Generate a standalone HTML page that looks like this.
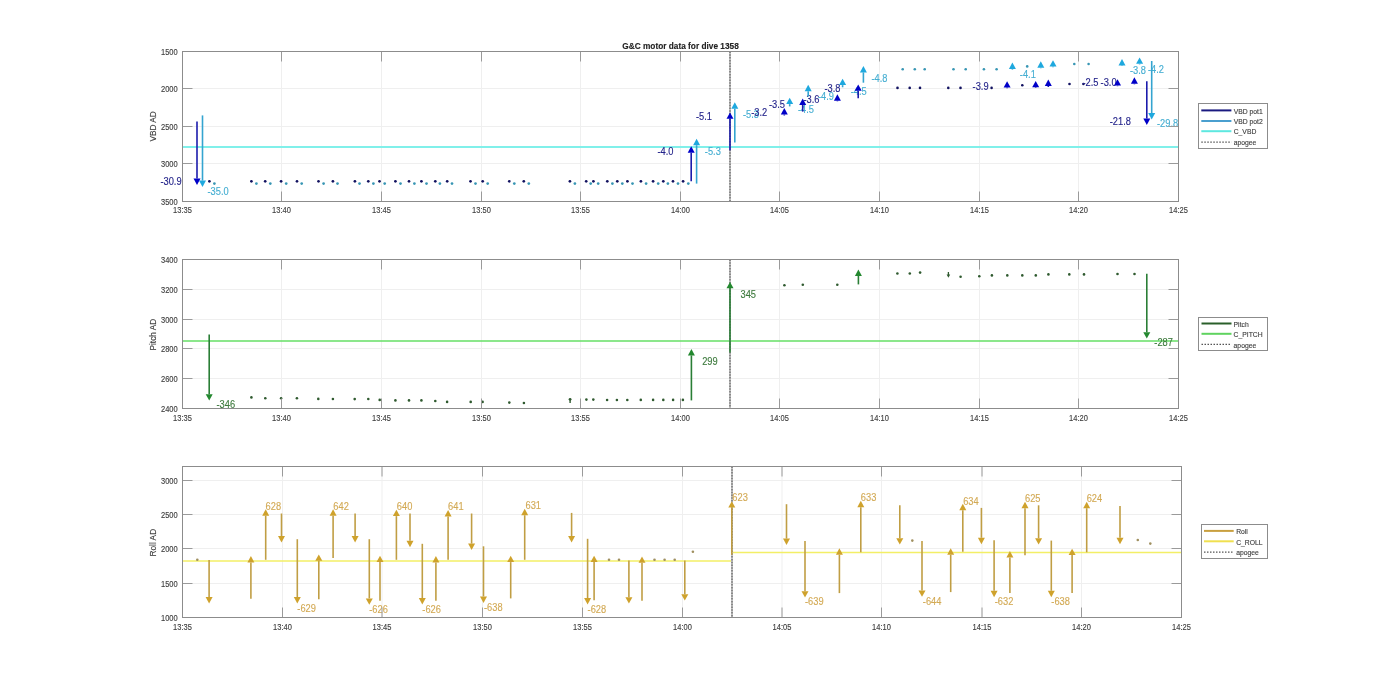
<!DOCTYPE html><html><head><meta charset="utf-8"><style>html,body{margin:0;padding:0;background:#fff;width:1400px;height:693px;overflow:hidden}svg{display:block;will-change:transform}</style></head><body>
<svg width="1400" height="693" viewBox="0 0 1400 693" font-family='"Liberation Sans", sans-serif'>
<rect width="1400" height="693" fill="#fff"/>
<line x1="281.5" y1="51.5" x2="281.5" y2="201.5" stroke="#efefef" stroke-width="1"/>
<line x1="381.5" y1="51.5" x2="381.5" y2="201.5" stroke="#efefef" stroke-width="1"/>
<line x1="481.5" y1="51.5" x2="481.5" y2="201.5" stroke="#efefef" stroke-width="1"/>
<line x1="580.5" y1="51.5" x2="580.5" y2="201.5" stroke="#efefef" stroke-width="1"/>
<line x1="680.5" y1="51.5" x2="680.5" y2="201.5" stroke="#efefef" stroke-width="1"/>
<line x1="779.5" y1="51.5" x2="779.5" y2="201.5" stroke="#efefef" stroke-width="1"/>
<line x1="879.5" y1="51.5" x2="879.5" y2="201.5" stroke="#efefef" stroke-width="1"/>
<line x1="979.5" y1="51.5" x2="979.5" y2="201.5" stroke="#efefef" stroke-width="1"/>
<line x1="1078.5" y1="51.5" x2="1078.5" y2="201.5" stroke="#efefef" stroke-width="1"/>
<line x1="182.5" y1="88.5" x2="1178.5" y2="88.5" stroke="#efefef" stroke-width="1"/>
<line x1="182.5" y1="126.5" x2="1178.5" y2="126.5" stroke="#efefef" stroke-width="1"/>
<line x1="182.5" y1="163.5" x2="1178.5" y2="163.5" stroke="#efefef" stroke-width="1"/>
<line x1="182.5" y1="147" x2="1178.5" y2="147" stroke="#80f0ea" stroke-width="2"/>
<line x1="730" y1="51.5" x2="730" y2="201.5" stroke="#c4c4c4" stroke-width="2"/>
<line x1="730" y1="51.5" x2="730" y2="201.5" stroke="#8a8a8a" stroke-width="2" stroke-dasharray="1.5,1.3"/>
<circle cx="209.4" cy="181.3" r="1.35" fill="#121260"/>
<circle cx="251.4" cy="181.3" r="1.35" fill="#121260"/>
<circle cx="265.2" cy="181.3" r="1.35" fill="#121260"/>
<circle cx="281.1" cy="181.3" r="1.35" fill="#121260"/>
<circle cx="297" cy="181.3" r="1.35" fill="#121260"/>
<circle cx="318.5" cy="181.3" r="1.35" fill="#121260"/>
<circle cx="332.9" cy="181.3" r="1.35" fill="#121260"/>
<circle cx="354.9" cy="181.3" r="1.35" fill="#121260"/>
<circle cx="368.3" cy="181.3" r="1.35" fill="#121260"/>
<circle cx="379.5" cy="181.3" r="1.35" fill="#121260"/>
<circle cx="395.4" cy="181.3" r="1.35" fill="#121260"/>
<circle cx="409" cy="181.3" r="1.35" fill="#121260"/>
<circle cx="421.4" cy="181.3" r="1.35" fill="#121260"/>
<circle cx="435.3" cy="181.3" r="1.35" fill="#121260"/>
<circle cx="447.2" cy="181.3" r="1.35" fill="#121260"/>
<circle cx="470.5" cy="181.3" r="1.35" fill="#121260"/>
<circle cx="482.7" cy="181.3" r="1.35" fill="#121260"/>
<circle cx="509.3" cy="181.3" r="1.35" fill="#121260"/>
<circle cx="523.8" cy="181.3" r="1.35" fill="#121260"/>
<circle cx="569.9" cy="181.3" r="1.35" fill="#121260"/>
<circle cx="586.2" cy="181.3" r="1.35" fill="#121260"/>
<circle cx="593.4" cy="181.3" r="1.35" fill="#121260"/>
<circle cx="607.3" cy="181.3" r="1.35" fill="#121260"/>
<circle cx="617.3" cy="181.3" r="1.35" fill="#121260"/>
<circle cx="627.4" cy="181.3" r="1.35" fill="#121260"/>
<circle cx="640.9" cy="181.3" r="1.35" fill="#121260"/>
<circle cx="653.1" cy="181.3" r="1.35" fill="#121260"/>
<circle cx="663.3" cy="181.3" r="1.35" fill="#121260"/>
<circle cx="673" cy="181.3" r="1.35" fill="#121260"/>
<circle cx="683.1" cy="181.3" r="1.35" fill="#121260"/>
<circle cx="214.4" cy="183.6" r="1.35" fill="#3896b4"/>
<circle cx="256.4" cy="183.6" r="1.35" fill="#3896b4"/>
<circle cx="270.3" cy="183.6" r="1.35" fill="#3896b4"/>
<circle cx="286.2" cy="183.6" r="1.35" fill="#3896b4"/>
<circle cx="301.7" cy="183.6" r="1.35" fill="#3896b4"/>
<circle cx="323.6" cy="183.6" r="1.35" fill="#3896b4"/>
<circle cx="337.5" cy="183.6" r="1.35" fill="#3896b4"/>
<circle cx="359.5" cy="183.6" r="1.35" fill="#3896b4"/>
<circle cx="373.4" cy="183.6" r="1.35" fill="#3896b4"/>
<circle cx="384.7" cy="183.6" r="1.35" fill="#3896b4"/>
<circle cx="400.5" cy="183.6" r="1.35" fill="#3896b4"/>
<circle cx="414.4" cy="183.6" r="1.35" fill="#3896b4"/>
<circle cx="426.5" cy="183.6" r="1.35" fill="#3896b4"/>
<circle cx="439.9" cy="183.6" r="1.35" fill="#3896b4"/>
<circle cx="452" cy="183.6" r="1.35" fill="#3896b4"/>
<circle cx="475.5" cy="183.6" r="1.35" fill="#3896b4"/>
<circle cx="487.7" cy="183.6" r="1.35" fill="#3896b4"/>
<circle cx="514.3" cy="183.6" r="1.35" fill="#3896b4"/>
<circle cx="528.8" cy="183.6" r="1.35" fill="#3896b4"/>
<circle cx="574.9" cy="183.6" r="1.35" fill="#3896b4"/>
<circle cx="590.7" cy="183.6" r="1.35" fill="#3896b4"/>
<circle cx="598.2" cy="183.6" r="1.35" fill="#3896b4"/>
<circle cx="612.4" cy="183.6" r="1.35" fill="#3896b4"/>
<circle cx="622.3" cy="183.6" r="1.35" fill="#3896b4"/>
<circle cx="632.5" cy="183.6" r="1.35" fill="#3896b4"/>
<circle cx="646.1" cy="183.6" r="1.35" fill="#3896b4"/>
<circle cx="658.2" cy="183.6" r="1.35" fill="#3896b4"/>
<circle cx="667.9" cy="183.6" r="1.35" fill="#3896b4"/>
<circle cx="678" cy="183.6" r="1.35" fill="#3896b4"/>
<circle cx="688.3" cy="183.6" r="1.35" fill="#3896b4"/>
<circle cx="897.5" cy="87.9" r="1.3" fill="#121260"/>
<circle cx="909.7" cy="87.9" r="1.3" fill="#121260"/>
<circle cx="920" cy="87.9" r="1.3" fill="#121260"/>
<circle cx="948.3" cy="87.9" r="1.3" fill="#121260"/>
<circle cx="960.5" cy="87.9" r="1.3" fill="#121260"/>
<circle cx="991.6" cy="87.9" r="1.3" fill="#121260"/>
<circle cx="1022.3" cy="85.2" r="1.3" fill="#121260"/>
<circle cx="1069.5" cy="84" r="1.3" fill="#121260"/>
<circle cx="1083.4" cy="84" r="1.3" fill="#121260"/>
<circle cx="902.7" cy="69.2" r="1.3" fill="#3896b4"/>
<circle cx="914.8" cy="69.2" r="1.3" fill="#3896b4"/>
<circle cx="924.7" cy="69.2" r="1.3" fill="#3896b4"/>
<circle cx="953.5" cy="69.2" r="1.3" fill="#3896b4"/>
<circle cx="965.7" cy="69.2" r="1.3" fill="#3896b4"/>
<circle cx="983.9" cy="69.2" r="1.3" fill="#3896b4"/>
<circle cx="996.6" cy="69.2" r="1.3" fill="#3896b4"/>
<circle cx="1027.2" cy="66.4" r="1.3" fill="#3896b4"/>
<circle cx="1074.3" cy="64" r="1.3" fill="#3896b4"/>
<circle cx="1088.6" cy="64" r="1.3" fill="#3896b4"/>
<text transform="translate(207.50 194.95) scale(1 1.1)" font-size="9.3" fill="#45aed2" stroke="#45aed2" stroke-width="0.12">-35.0</text>
<text transform="translate(704.80 154.65) scale(1 1.1)" font-size="9.3" fill="#45aed2" stroke="#45aed2" stroke-width="0.12">-5.3</text>
<text transform="translate(742.90 117.85) scale(1 1.1)" font-size="9.3" fill="#45aed2" stroke="#45aed2" stroke-width="0.12">-5.3</text>
<text transform="translate(798.00 113.15) scale(1 1.1)" font-size="9.3" fill="#45aed2" stroke="#45aed2" stroke-width="0.12">-4.5</text>
<text transform="translate(818.00 100.45) scale(1 1.1)" font-size="9.3" fill="#45aed2" stroke="#45aed2" stroke-width="0.12">-4.9</text>
<text transform="translate(850.70 95.05) scale(1 1.1)" font-size="9.3" fill="#45aed2" stroke="#45aed2" stroke-width="0.12">-4.5</text>
<text transform="translate(871.50 82.05) scale(1 1.1)" font-size="9.3" fill="#45aed2" stroke="#45aed2" stroke-width="0.12">-4.8</text>
<text transform="translate(1019.80 78.05) scale(1 1.1)" font-size="9.3" fill="#45aed2" stroke="#45aed2" stroke-width="0.12">-4.1</text>
<text transform="translate(1129.90 74.15) scale(1 1.1)" font-size="9.3" fill="#45aed2" stroke="#45aed2" stroke-width="0.12">-3.8</text>
<text transform="translate(1148.00 73.05) scale(1 1.1)" font-size="9.3" fill="#45aed2" stroke="#45aed2" stroke-width="0.12">-4.2</text>
<text transform="translate(1157.00 127.35) scale(1 1.1)" font-size="9.3" fill="#45aed2" stroke="#45aed2" stroke-width="0.12">-29.8</text>
<text transform="translate(160.40 185.45) scale(1 1.1)" font-size="9.3" fill="#23238a" stroke="#23238a" stroke-width="0.12">-30.9</text>
<text transform="translate(657.50 154.85) scale(1 1.1)" font-size="9.3" fill="#23238a" stroke="#23238a" stroke-width="0.12">-4.0</text>
<text transform="translate(695.90 119.85) scale(1 1.1)" font-size="9.3" fill="#23238a" stroke="#23238a" stroke-width="0.12">-5.1</text>
<text transform="translate(751.20 115.75) scale(1 1.1)" font-size="9.3" fill="#23238a" stroke="#23238a" stroke-width="0.12">-3.2</text>
<text transform="translate(769.00 107.65) scale(1 1.1)" font-size="9.3" fill="#23238a" stroke="#23238a" stroke-width="0.12">-3.5</text>
<text transform="translate(803.50 102.85) scale(1 1.1)" font-size="9.3" fill="#23238a" stroke="#23238a" stroke-width="0.12">-3.6</text>
<text transform="translate(824.50 92.35) scale(1 1.1)" font-size="9.3" fill="#23238a" stroke="#23238a" stroke-width="0.12">-3.8</text>
<text transform="translate(972.60 89.55) scale(1 1.1)" font-size="9.3" fill="#23238a" stroke="#23238a" stroke-width="0.12">-3.9</text>
<text transform="translate(1082.50 86.45) scale(1 1.1)" font-size="9.3" fill="#23238a" stroke="#23238a" stroke-width="0.12">-2.5</text>
<text transform="translate(1100.60 86.45) scale(1 1.1)" font-size="9.3" fill="#23238a" stroke="#23238a" stroke-width="0.12">-3.0</text>
<text transform="translate(1109.70 125.45) scale(1 1.1)" font-size="9.3" fill="#23238a" stroke="#23238a" stroke-width="0.12">-21.8</text>
<line x1="202.5" y1="115.4" x2="202.5" y2="180.6" stroke="#34a4d0" stroke-width="1.6"/><polygon points="199.0,180.6 206.0,180.6 202.5,187" fill="#1ea8de"/>
<line x1="696.6" y1="183.6" x2="696.6" y2="145.20000000000002" stroke="#34a4d0" stroke-width="1.6"/><polygon points="693.1,145.2 700.1,145.2 696.6,138.8" fill="#1ea8de"/>
<line x1="734.8" y1="142.4" x2="734.8" y2="108.7" stroke="#34a4d0" stroke-width="1.6"/><polygon points="731.3,108.7 738.3,108.7 734.8,102.3" fill="#1ea8de"/>
<line x1="789.7" y1="106.4" x2="789.7" y2="104.10000000000001" stroke="#34a4d0" stroke-width="1.6"/><polygon points="786.2,104.1 793.2,104.1 789.7,97.7" fill="#1ea8de"/>
<line x1="808.2" y1="96.6" x2="808.2" y2="91.2" stroke="#34a4d0" stroke-width="1.6"/><polygon points="804.7,91.2 811.7,91.2 808.2,84.8" fill="#1ea8de"/>
<line x1="842.6" y1="87.3" x2="842.6" y2="85.10000000000001" stroke="#34a4d0" stroke-width="1.6"/><polygon points="839.1,85.1 846.1,85.1 842.6,78.7" fill="#1ea8de"/>
<line x1="863.4" y1="82.7" x2="863.4" y2="72.4" stroke="#34a4d0" stroke-width="1.6"/><polygon points="859.9,72.4 866.9,72.4 863.4,66" fill="#1ea8de"/>
<line x1="1012.4" y1="69.6" x2="1012.4" y2="69.0" stroke="#34a4d0" stroke-width="1.6"/><polygon points="1008.9,69.0 1015.9,69.0 1012.4,62.6" fill="#1ea8de"/>
<line x1="1040.8" y1="68.3" x2="1040.8" y2="67.7" stroke="#34a4d0" stroke-width="1.6"/><polygon points="1037.3,67.7 1044.3,67.7 1040.8,61.3" fill="#1ea8de"/>
<line x1="1053" y1="67.2" x2="1053" y2="66.60000000000001" stroke="#34a4d0" stroke-width="1.6"/><polygon points="1049.5,66.6 1056.5,66.6 1053,60.2" fill="#1ea8de"/>
<line x1="1122" y1="66" x2="1122" y2="65.4" stroke="#34a4d0" stroke-width="1.6"/><polygon points="1118.5,65.4 1125.5,65.4 1122,59" fill="#1ea8de"/>
<line x1="1139.6" y1="64.4" x2="1139.6" y2="63.8" stroke="#34a4d0" stroke-width="1.6"/><polygon points="1136.1,63.8 1143.1,63.8 1139.6,57.4" fill="#1ea8de"/>
<line x1="1151.7" y1="61" x2="1151.7" y2="113.1" stroke="#34a4d0" stroke-width="1.6"/><polygon points="1148.2,113.1 1155.2,113.1 1151.7,119.5" fill="#1ea8de"/>
<line x1="197" y1="121.4" x2="197" y2="178.6" stroke="#1c1cac" stroke-width="1.6"/><polygon points="193.5,178.6 200.5,178.6 197,185" fill="#0000c8"/>
<line x1="691.2" y1="181.3" x2="691.2" y2="152.70000000000002" stroke="#1c1cac" stroke-width="1.6"/><polygon points="687.7,152.7 694.7,152.7 691.2,146.3" fill="#0000c8"/>
<line x1="730" y1="150.3" x2="730" y2="118.80000000000001" stroke="#1c1cac" stroke-width="1.6"/><polygon points="726.5,118.8 733.5,118.8 730,112.4" fill="#0000c8"/>
<line x1="784.3" y1="115.5" x2="784.3" y2="114.5" stroke="#1c1cac" stroke-width="1.6"/><polygon points="780.8,114.5 787.8,114.5 784.3,108.1" fill="#0000c8"/>
<line x1="802.7" y1="111.6" x2="802.7" y2="105.0" stroke="#1c1cac" stroke-width="1.6"/><polygon points="799.2,105.0 806.2,105.0 802.7,98.6" fill="#0000c8"/>
<line x1="837.4" y1="101.3" x2="837.4" y2="100.7" stroke="#1c1cac" stroke-width="1.6"/><polygon points="833.9,100.7 840.9,100.7 837.4,94.3" fill="#0000c8"/>
<line x1="858.2" y1="98.3" x2="858.2" y2="90.80000000000001" stroke="#1c1cac" stroke-width="1.6"/><polygon points="854.7,90.8 861.7,90.8 858.2,84.4" fill="#0000c8"/>
<line x1="1007.1" y1="88.2" x2="1007.1" y2="87.60000000000001" stroke="#1c1cac" stroke-width="1.6"/><polygon points="1003.6,87.6 1010.6,87.6 1007.1,81.2" fill="#0000c8"/>
<line x1="1035.7" y1="87.9" x2="1035.7" y2="87.30000000000001" stroke="#1c1cac" stroke-width="1.6"/><polygon points="1032.2,87.3 1039.2,87.3 1035.7,80.9" fill="#0000c8"/>
<line x1="1048.3" y1="87" x2="1048.3" y2="86.0" stroke="#1c1cac" stroke-width="1.6"/><polygon points="1044.8,86.0 1051.8,86.0 1048.3,79.6" fill="#0000c8"/>
<line x1="1117.5" y1="86.2" x2="1117.5" y2="85.60000000000001" stroke="#1c1cac" stroke-width="1.6"/><polygon points="1114.0,85.6 1121.0,85.6 1117.5,79.2" fill="#0000c8"/>
<line x1="1134.4" y1="84.3" x2="1134.4" y2="83.7" stroke="#1c1cac" stroke-width="1.6"/><polygon points="1130.9,83.7 1137.9,83.7 1134.4,77.3" fill="#0000c8"/>
<line x1="1146.8" y1="81.2" x2="1146.8" y2="118.6" stroke="#1c1cac" stroke-width="1.6"/><polygon points="1143.3,118.6 1150.3,118.6 1146.8,125" fill="#0000c8"/>
<line x1="281.5" y1="201.5" x2="281.5" y2="191.5" stroke="#9a9a9a" stroke-width="1"/>
<line x1="281.5" y1="51.5" x2="281.5" y2="61.5" stroke="#9a9a9a" stroke-width="1"/>
<line x1="381.5" y1="201.5" x2="381.5" y2="191.5" stroke="#9a9a9a" stroke-width="1"/>
<line x1="381.5" y1="51.5" x2="381.5" y2="61.5" stroke="#9a9a9a" stroke-width="1"/>
<line x1="481.5" y1="201.5" x2="481.5" y2="191.5" stroke="#9a9a9a" stroke-width="1"/>
<line x1="481.5" y1="51.5" x2="481.5" y2="61.5" stroke="#9a9a9a" stroke-width="1"/>
<line x1="580.5" y1="201.5" x2="580.5" y2="191.5" stroke="#9a9a9a" stroke-width="1"/>
<line x1="580.5" y1="51.5" x2="580.5" y2="61.5" stroke="#9a9a9a" stroke-width="1"/>
<line x1="680.5" y1="201.5" x2="680.5" y2="191.5" stroke="#9a9a9a" stroke-width="1"/>
<line x1="680.5" y1="51.5" x2="680.5" y2="61.5" stroke="#9a9a9a" stroke-width="1"/>
<line x1="779.5" y1="201.5" x2="779.5" y2="191.5" stroke="#9a9a9a" stroke-width="1"/>
<line x1="779.5" y1="51.5" x2="779.5" y2="61.5" stroke="#9a9a9a" stroke-width="1"/>
<line x1="879.5" y1="201.5" x2="879.5" y2="191.5" stroke="#9a9a9a" stroke-width="1"/>
<line x1="879.5" y1="51.5" x2="879.5" y2="61.5" stroke="#9a9a9a" stroke-width="1"/>
<line x1="979.5" y1="201.5" x2="979.5" y2="191.5" stroke="#9a9a9a" stroke-width="1"/>
<line x1="979.5" y1="51.5" x2="979.5" y2="61.5" stroke="#9a9a9a" stroke-width="1"/>
<line x1="1078.5" y1="201.5" x2="1078.5" y2="191.5" stroke="#9a9a9a" stroke-width="1"/>
<line x1="1078.5" y1="51.5" x2="1078.5" y2="61.5" stroke="#9a9a9a" stroke-width="1"/>
<line x1="182.5" y1="88.5" x2="192.5" y2="88.5" stroke="#9a9a9a" stroke-width="1"/>
<line x1="1178.5" y1="88.5" x2="1168.5" y2="88.5" stroke="#9a9a9a" stroke-width="1"/>
<line x1="182.5" y1="126.5" x2="192.5" y2="126.5" stroke="#9a9a9a" stroke-width="1"/>
<line x1="1178.5" y1="126.5" x2="1168.5" y2="126.5" stroke="#9a9a9a" stroke-width="1"/>
<line x1="182.5" y1="163.5" x2="192.5" y2="163.5" stroke="#9a9a9a" stroke-width="1"/>
<line x1="1178.5" y1="163.5" x2="1168.5" y2="163.5" stroke="#9a9a9a" stroke-width="1"/>
<rect x="182.5" y="51.5" width="996.0" height="150.0" fill="none" stroke="#8c8c8c" stroke-width="1"/>
<text transform="translate(177.70 55.20) scale(1 1.1)" text-anchor="end" font-size="7.5" fill="#404040" stroke="#404040" stroke-width="0.12">1500</text>
<text transform="translate(177.70 92.20) scale(1 1.1)" text-anchor="end" font-size="7.5" fill="#404040" stroke="#404040" stroke-width="0.12">2000</text>
<text transform="translate(177.70 130.20) scale(1 1.1)" text-anchor="end" font-size="7.5" fill="#404040" stroke="#404040" stroke-width="0.12">2500</text>
<text transform="translate(177.70 167.20) scale(1 1.1)" text-anchor="end" font-size="7.5" fill="#404040" stroke="#404040" stroke-width="0.12">3000</text>
<text transform="translate(177.70 205.20) scale(1 1.1)" text-anchor="end" font-size="7.5" fill="#404040" stroke="#404040" stroke-width="0.12">3500</text>
<text transform="translate(182.50 213.30) scale(1 1.1)" text-anchor="middle" font-size="7.5" fill="#404040" stroke="#404040" stroke-width="0.12">13:35</text>
<text transform="translate(281.50 213.30) scale(1 1.1)" text-anchor="middle" font-size="7.5" fill="#404040" stroke="#404040" stroke-width="0.12">13:40</text>
<text transform="translate(381.50 213.30) scale(1 1.1)" text-anchor="middle" font-size="7.5" fill="#404040" stroke="#404040" stroke-width="0.12">13:45</text>
<text transform="translate(481.50 213.30) scale(1 1.1)" text-anchor="middle" font-size="7.5" fill="#404040" stroke="#404040" stroke-width="0.12">13:50</text>
<text transform="translate(580.50 213.30) scale(1 1.1)" text-anchor="middle" font-size="7.5" fill="#404040" stroke="#404040" stroke-width="0.12">13:55</text>
<text transform="translate(680.50 213.30) scale(1 1.1)" text-anchor="middle" font-size="7.5" fill="#404040" stroke="#404040" stroke-width="0.12">14:00</text>
<text transform="translate(779.50 213.30) scale(1 1.1)" text-anchor="middle" font-size="7.5" fill="#404040" stroke="#404040" stroke-width="0.12">14:05</text>
<text transform="translate(879.50 213.30) scale(1 1.1)" text-anchor="middle" font-size="7.5" fill="#404040" stroke="#404040" stroke-width="0.12">14:10</text>
<text transform="translate(979.50 213.30) scale(1 1.1)" text-anchor="middle" font-size="7.5" fill="#404040" stroke="#404040" stroke-width="0.12">14:15</text>
<text transform="translate(1078.50 213.30) scale(1 1.1)" text-anchor="middle" font-size="7.5" fill="#404040" stroke="#404040" stroke-width="0.12">14:20</text>
<text transform="translate(1178.50 213.30) scale(1 1.1)" text-anchor="middle" font-size="7.5" fill="#404040" stroke="#404040" stroke-width="0.12">14:25</text>
<text transform="translate(156.20 126.40) rotate(-90) scale(1 1.1)" text-anchor="middle" font-size="8.3" fill="#404040" stroke="#404040" stroke-width="0.12">VBD AD</text>
<text transform="translate(680.50 48.90) scale(1 1.1)" text-anchor="middle" font-weight="bold" font-size="8.3" fill="#222" stroke="#222" stroke-width="0.12">G&amp;C motor data for dive 1358</text>
<rect x="1198.5" y="103.5" width="69" height="45" fill="#fff" stroke="#8c8c8c" stroke-width="1"/>
<line x1="1201.3" y1="110.4" x2="1231.4" y2="110.4" stroke="#1a1a80" stroke-width="2"/>
<text transform="translate(1233.70 113.60) scale(1 1.1)" font-size="6.8" fill="#404040" stroke="#404040" stroke-width="0.12">VBD pot1</text>
<line x1="1201.3" y1="121" x2="1231.4" y2="121" stroke="#4a9fcf" stroke-width="2"/>
<text transform="translate(1233.70 124.20) scale(1 1.1)" font-size="6.8" fill="#404040" stroke="#404040" stroke-width="0.12">VBD pot2</text>
<line x1="1201.3" y1="131.2" x2="1231.4" y2="131.2" stroke="#5ee8e0" stroke-width="2"/>
<text transform="translate(1233.70 134.40) scale(1 1.1)" font-size="6.8" fill="#404040" stroke="#404040" stroke-width="0.12">C_VBD</text>
<line x1="1201.3" y1="142.2" x2="1231.4" y2="142.2" stroke="#555" stroke-width="1.2" stroke-dasharray="1.5,1.5"/>
<text transform="translate(1233.70 145.40) scale(1 1.1)" font-size="6.8" fill="#404040" stroke="#404040" stroke-width="0.12">apogee</text>
<line x1="281.5" y1="259.5" x2="281.5" y2="408.5" stroke="#efefef" stroke-width="1"/>
<line x1="381.5" y1="259.5" x2="381.5" y2="408.5" stroke="#efefef" stroke-width="1"/>
<line x1="481.5" y1="259.5" x2="481.5" y2="408.5" stroke="#efefef" stroke-width="1"/>
<line x1="580.5" y1="259.5" x2="580.5" y2="408.5" stroke="#efefef" stroke-width="1"/>
<line x1="680.5" y1="259.5" x2="680.5" y2="408.5" stroke="#efefef" stroke-width="1"/>
<line x1="779.5" y1="259.5" x2="779.5" y2="408.5" stroke="#efefef" stroke-width="1"/>
<line x1="879.5" y1="259.5" x2="879.5" y2="408.5" stroke="#efefef" stroke-width="1"/>
<line x1="979.5" y1="259.5" x2="979.5" y2="408.5" stroke="#efefef" stroke-width="1"/>
<line x1="1078.5" y1="259.5" x2="1078.5" y2="408.5" stroke="#efefef" stroke-width="1"/>
<line x1="182.5" y1="378.5" x2="1178.5" y2="378.5" stroke="#efefef" stroke-width="1"/>
<line x1="182.5" y1="348.5" x2="1178.5" y2="348.5" stroke="#efefef" stroke-width="1"/>
<line x1="182.5" y1="319.5" x2="1178.5" y2="319.5" stroke="#efefef" stroke-width="1"/>
<line x1="182.5" y1="289.5" x2="1178.5" y2="289.5" stroke="#efefef" stroke-width="1"/>
<line x1="182.5" y1="341" x2="1178.5" y2="341" stroke="#66df66" stroke-width="1.6"/>
<line x1="730" y1="259.5" x2="730" y2="408.5" stroke="#c4c4c4" stroke-width="2"/>
<line x1="730" y1="259.5" x2="730" y2="408.5" stroke="#8a8a8a" stroke-width="2" stroke-dasharray="1.5,1.3"/>
<circle cx="251.4" cy="397.4" r="1.3" fill="#2f5a2f"/>
<circle cx="265.3" cy="398.3" r="1.3" fill="#2f5a2f"/>
<circle cx="281.1" cy="398.3" r="1.3" fill="#2f5a2f"/>
<circle cx="296.9" cy="398.3" r="1.3" fill="#2f5a2f"/>
<circle cx="318.3" cy="398.9" r="1.3" fill="#2f5a2f"/>
<circle cx="332.9" cy="399" r="1.3" fill="#2f5a2f"/>
<circle cx="354.7" cy="399.1" r="1.3" fill="#2f5a2f"/>
<circle cx="368.3" cy="399" r="1.3" fill="#2f5a2f"/>
<circle cx="379.7" cy="399.9" r="1.3" fill="#2f5a2f"/>
<circle cx="395.4" cy="400.4" r="1.3" fill="#2f5a2f"/>
<circle cx="409" cy="400.4" r="1.3" fill="#2f5a2f"/>
<circle cx="421.4" cy="400.4" r="1.3" fill="#2f5a2f"/>
<circle cx="435.3" cy="401" r="1.3" fill="#2f5a2f"/>
<circle cx="447.1" cy="401.9" r="1.3" fill="#2f5a2f"/>
<circle cx="470.7" cy="401.9" r="1.3" fill="#2f5a2f"/>
<circle cx="482.6" cy="401.9" r="1.3" fill="#2f5a2f"/>
<circle cx="509.3" cy="402.6" r="1.3" fill="#2f5a2f"/>
<circle cx="523.9" cy="403" r="1.3" fill="#2f5a2f"/>
<circle cx="586.4" cy="399.6" r="1.3" fill="#2f5a2f"/>
<circle cx="593.3" cy="399.6" r="1.3" fill="#2f5a2f"/>
<circle cx="607.1" cy="400" r="1.3" fill="#2f5a2f"/>
<circle cx="616.9" cy="400" r="1.3" fill="#2f5a2f"/>
<circle cx="627.3" cy="400" r="1.3" fill="#2f5a2f"/>
<circle cx="640.8" cy="399.9" r="1.3" fill="#2f5a2f"/>
<circle cx="653.1" cy="399.9" r="1.3" fill="#2f5a2f"/>
<circle cx="663.3" cy="399.9" r="1.3" fill="#2f5a2f"/>
<circle cx="673.1" cy="399.9" r="1.3" fill="#2f5a2f"/>
<circle cx="682.9" cy="399.9" r="1.3" fill="#2f5a2f"/>
<circle cx="784.4" cy="285.3" r="1.3" fill="#2f5a2f"/>
<circle cx="802.8" cy="284.7" r="1.3" fill="#2f5a2f"/>
<circle cx="837.3" cy="284.7" r="1.3" fill="#2f5a2f"/>
<circle cx="897.4" cy="273.5" r="1.3" fill="#2f5a2f"/>
<circle cx="909.8" cy="273.5" r="1.3" fill="#2f5a2f"/>
<circle cx="920.1" cy="272.6" r="1.3" fill="#2f5a2f"/>
<circle cx="960.6" cy="276.7" r="1.3" fill="#2f5a2f"/>
<circle cx="979.3" cy="276.3" r="1.3" fill="#2f5a2f"/>
<circle cx="991.9" cy="275.4" r="1.3" fill="#2f5a2f"/>
<circle cx="1007.3" cy="275.4" r="1.3" fill="#2f5a2f"/>
<circle cx="1022.3" cy="275.4" r="1.3" fill="#2f5a2f"/>
<circle cx="1035.8" cy="275.4" r="1.3" fill="#2f5a2f"/>
<circle cx="1048.4" cy="274.4" r="1.3" fill="#2f5a2f"/>
<circle cx="1069.3" cy="274.4" r="1.3" fill="#2f5a2f"/>
<circle cx="1084" cy="274.4" r="1.3" fill="#2f5a2f"/>
<circle cx="1117.5" cy="274" r="1.3" fill="#2f5a2f"/>
<circle cx="1134.5" cy="274" r="1.3" fill="#2f5a2f"/>
<line x1="209.2" y1="334.4" x2="209.2" y2="394.20000000000005" stroke="#2a7e36" stroke-width="1.6"/><polygon points="205.7,394.2 212.7,394.2 209.2,400.6" fill="#23882f"/>
<line x1="691.4" y1="400.4" x2="691.4" y2="355.4" stroke="#2a7e36" stroke-width="1.6"/><polygon points="687.9,355.4 694.9,355.4 691.4,349" fill="#23882f"/>
<line x1="730" y1="352.5" x2="730" y2="288.29999999999995" stroke="#2a7e36" stroke-width="1.6"/><polygon points="726.5,288.3 733.5,288.3 730,281.9" fill="#23882f"/>
<line x1="858.4" y1="284.4" x2="858.4" y2="276.0" stroke="#2a7e36" stroke-width="1.6"/><polygon points="854.9,276.0 861.9,276.0 858.4,269.6" fill="#23882f"/>
<line x1="1146.8" y1="273.7" x2="1146.8" y2="332.20000000000005" stroke="#2a7e36" stroke-width="1.6"/><polygon points="1143.3,332.2 1150.3,332.2 1146.8,338.6" fill="#23882f"/>
<line x1="948.4" y1="272" x2="948.4" y2="275" stroke="#2f5a2f" stroke-width="1.3"/><polygon points="946.6,274.6 950.2,274.6 948.4,277.8" fill="#2f5a2f"/>
<line x1="570.1" y1="399" x2="570.1" y2="403" stroke="#2f5a2f" stroke-width="1.4"/><circle cx="570.1" cy="399.3" r="1.4" fill="#2f5a2f"/>
<text transform="translate(216.50 408.35) scale(1 1.1)" font-size="9.3" fill="#3d7a3d" stroke="#3d7a3d" stroke-width="0.12">-346</text>
<text transform="translate(702.20 364.95) scale(1 1.1)" font-size="9.3" fill="#3d7a3d" stroke="#3d7a3d" stroke-width="0.12">299</text>
<text transform="translate(740.50 297.65) scale(1 1.1)" font-size="9.3" fill="#3d7a3d" stroke="#3d7a3d" stroke-width="0.12">345</text>
<text transform="translate(1154.30 345.95) scale(1 1.1)" font-size="9.3" fill="#3d7a3d" stroke="#3d7a3d" stroke-width="0.12">-287</text>
<line x1="281.5" y1="408.5" x2="281.5" y2="398.5" stroke="#9a9a9a" stroke-width="1"/>
<line x1="281.5" y1="259.5" x2="281.5" y2="269.5" stroke="#9a9a9a" stroke-width="1"/>
<line x1="381.5" y1="408.5" x2="381.5" y2="398.5" stroke="#9a9a9a" stroke-width="1"/>
<line x1="381.5" y1="259.5" x2="381.5" y2="269.5" stroke="#9a9a9a" stroke-width="1"/>
<line x1="481.5" y1="408.5" x2="481.5" y2="398.5" stroke="#9a9a9a" stroke-width="1"/>
<line x1="481.5" y1="259.5" x2="481.5" y2="269.5" stroke="#9a9a9a" stroke-width="1"/>
<line x1="580.5" y1="408.5" x2="580.5" y2="398.5" stroke="#9a9a9a" stroke-width="1"/>
<line x1="580.5" y1="259.5" x2="580.5" y2="269.5" stroke="#9a9a9a" stroke-width="1"/>
<line x1="680.5" y1="408.5" x2="680.5" y2="398.5" stroke="#9a9a9a" stroke-width="1"/>
<line x1="680.5" y1="259.5" x2="680.5" y2="269.5" stroke="#9a9a9a" stroke-width="1"/>
<line x1="779.5" y1="408.5" x2="779.5" y2="398.5" stroke="#9a9a9a" stroke-width="1"/>
<line x1="779.5" y1="259.5" x2="779.5" y2="269.5" stroke="#9a9a9a" stroke-width="1"/>
<line x1="879.5" y1="408.5" x2="879.5" y2="398.5" stroke="#9a9a9a" stroke-width="1"/>
<line x1="879.5" y1="259.5" x2="879.5" y2="269.5" stroke="#9a9a9a" stroke-width="1"/>
<line x1="979.5" y1="408.5" x2="979.5" y2="398.5" stroke="#9a9a9a" stroke-width="1"/>
<line x1="979.5" y1="259.5" x2="979.5" y2="269.5" stroke="#9a9a9a" stroke-width="1"/>
<line x1="1078.5" y1="408.5" x2="1078.5" y2="398.5" stroke="#9a9a9a" stroke-width="1"/>
<line x1="1078.5" y1="259.5" x2="1078.5" y2="269.5" stroke="#9a9a9a" stroke-width="1"/>
<line x1="182.5" y1="378.5" x2="192.5" y2="378.5" stroke="#9a9a9a" stroke-width="1"/>
<line x1="1178.5" y1="378.5" x2="1168.5" y2="378.5" stroke="#9a9a9a" stroke-width="1"/>
<line x1="182.5" y1="348.5" x2="192.5" y2="348.5" stroke="#9a9a9a" stroke-width="1"/>
<line x1="1178.5" y1="348.5" x2="1168.5" y2="348.5" stroke="#9a9a9a" stroke-width="1"/>
<line x1="182.5" y1="319.5" x2="192.5" y2="319.5" stroke="#9a9a9a" stroke-width="1"/>
<line x1="1178.5" y1="319.5" x2="1168.5" y2="319.5" stroke="#9a9a9a" stroke-width="1"/>
<line x1="182.5" y1="289.5" x2="192.5" y2="289.5" stroke="#9a9a9a" stroke-width="1"/>
<line x1="1178.5" y1="289.5" x2="1168.5" y2="289.5" stroke="#9a9a9a" stroke-width="1"/>
<rect x="182.5" y="259.5" width="996.0" height="149.0" fill="none" stroke="#8c8c8c" stroke-width="1"/>
<text transform="translate(177.70 412.20) scale(1 1.1)" text-anchor="end" font-size="7.5" fill="#404040" stroke="#404040" stroke-width="0.12">2400</text>
<text transform="translate(177.70 382.20) scale(1 1.1)" text-anchor="end" font-size="7.5" fill="#404040" stroke="#404040" stroke-width="0.12">2600</text>
<text transform="translate(177.70 352.20) scale(1 1.1)" text-anchor="end" font-size="7.5" fill="#404040" stroke="#404040" stroke-width="0.12">2800</text>
<text transform="translate(177.70 323.20) scale(1 1.1)" text-anchor="end" font-size="7.5" fill="#404040" stroke="#404040" stroke-width="0.12">3000</text>
<text transform="translate(177.70 293.20) scale(1 1.1)" text-anchor="end" font-size="7.5" fill="#404040" stroke="#404040" stroke-width="0.12">3200</text>
<text transform="translate(177.70 263.20) scale(1 1.1)" text-anchor="end" font-size="7.5" fill="#404040" stroke="#404040" stroke-width="0.12">3400</text>
<text transform="translate(182.50 420.50) scale(1 1.1)" text-anchor="middle" font-size="7.5" fill="#404040" stroke="#404040" stroke-width="0.12">13:35</text>
<text transform="translate(281.50 420.50) scale(1 1.1)" text-anchor="middle" font-size="7.5" fill="#404040" stroke="#404040" stroke-width="0.12">13:40</text>
<text transform="translate(381.50 420.50) scale(1 1.1)" text-anchor="middle" font-size="7.5" fill="#404040" stroke="#404040" stroke-width="0.12">13:45</text>
<text transform="translate(481.50 420.50) scale(1 1.1)" text-anchor="middle" font-size="7.5" fill="#404040" stroke="#404040" stroke-width="0.12">13:50</text>
<text transform="translate(580.50 420.50) scale(1 1.1)" text-anchor="middle" font-size="7.5" fill="#404040" stroke="#404040" stroke-width="0.12">13:55</text>
<text transform="translate(680.50 420.50) scale(1 1.1)" text-anchor="middle" font-size="7.5" fill="#404040" stroke="#404040" stroke-width="0.12">14:00</text>
<text transform="translate(779.50 420.50) scale(1 1.1)" text-anchor="middle" font-size="7.5" fill="#404040" stroke="#404040" stroke-width="0.12">14:05</text>
<text transform="translate(879.50 420.50) scale(1 1.1)" text-anchor="middle" font-size="7.5" fill="#404040" stroke="#404040" stroke-width="0.12">14:10</text>
<text transform="translate(979.50 420.50) scale(1 1.1)" text-anchor="middle" font-size="7.5" fill="#404040" stroke="#404040" stroke-width="0.12">14:15</text>
<text transform="translate(1078.50 420.50) scale(1 1.1)" text-anchor="middle" font-size="7.5" fill="#404040" stroke="#404040" stroke-width="0.12">14:20</text>
<text transform="translate(1178.50 420.50) scale(1 1.1)" text-anchor="middle" font-size="7.5" fill="#404040" stroke="#404040" stroke-width="0.12">14:25</text>
<text transform="translate(156.20 334.60) rotate(-90) scale(1 1.1)" text-anchor="middle" font-size="8.3" fill="#404040" stroke="#404040" stroke-width="0.12">Pitch AD</text>
<rect x="1198.5" y="317.5" width="69" height="33" fill="#fff" stroke="#8c8c8c" stroke-width="1"/>
<line x1="1201.5" y1="323.5" x2="1231.5" y2="323.5" stroke="#2a5f2a" stroke-width="2"/>
<text transform="translate(1233.60 326.70) scale(1 1.1)" font-size="6.8" fill="#404040" stroke="#404040" stroke-width="0.12">Pitch</text>
<line x1="1201.5" y1="333.8" x2="1231.5" y2="333.8" stroke="#5fd35f" stroke-width="2"/>
<text transform="translate(1233.60 337.00) scale(1 1.1)" font-size="6.8" fill="#404040" stroke="#404040" stroke-width="0.12">C_PITCH</text>
<line x1="1201.5" y1="344.3" x2="1231.5" y2="344.3" stroke="#555" stroke-width="1.2" stroke-dasharray="1.5,1.5"/>
<text transform="translate(1233.60 347.50) scale(1 1.1)" font-size="6.8" fill="#404040" stroke="#404040" stroke-width="0.12">apogee</text>
<line x1="282.5" y1="466.5" x2="282.5" y2="617.5" stroke="#efefef" stroke-width="1"/>
<line x1="382" y1="466.5" x2="382" y2="617.5" stroke="#efefef" stroke-width="1"/>
<line x1="482.5" y1="466.5" x2="482.5" y2="617.5" stroke="#efefef" stroke-width="1"/>
<line x1="582.5" y1="466.5" x2="582.5" y2="617.5" stroke="#efefef" stroke-width="1"/>
<line x1="682.5" y1="466.5" x2="682.5" y2="617.5" stroke="#efefef" stroke-width="1"/>
<line x1="782" y1="466.5" x2="782" y2="617.5" stroke="#efefef" stroke-width="1"/>
<line x1="881.5" y1="466.5" x2="881.5" y2="617.5" stroke="#efefef" stroke-width="1"/>
<line x1="982" y1="466.5" x2="982" y2="617.5" stroke="#efefef" stroke-width="1"/>
<line x1="1081.5" y1="466.5" x2="1081.5" y2="617.5" stroke="#efefef" stroke-width="1"/>
<line x1="182.5" y1="583.5" x2="1181.5" y2="583.5" stroke="#efefef" stroke-width="1"/>
<line x1="182.5" y1="548.5" x2="1181.5" y2="548.5" stroke="#efefef" stroke-width="1"/>
<line x1="182.5" y1="514.5" x2="1181.5" y2="514.5" stroke="#efefef" stroke-width="1"/>
<line x1="182.5" y1="480.5" x2="1181.5" y2="480.5" stroke="#efefef" stroke-width="1"/>
<line x1="182.5" y1="561" x2="732" y2="561" stroke="#f3ef66" stroke-width="1.6"/>
<line x1="732" y1="552.5" x2="1181.5" y2="552.5" stroke="#f3ef66" stroke-width="1.6"/>
<line x1="732" y1="466.5" x2="732" y2="617.5" stroke="#c4c4c4" stroke-width="2"/>
<line x1="732" y1="466.5" x2="732" y2="617.5" stroke="#8a8a8a" stroke-width="2" stroke-dasharray="1.5,1.3"/>
<circle cx="197.3" cy="559.8" r="1.3" fill="#a09060"/>
<circle cx="609" cy="559.8" r="1.3" fill="#a09060"/>
<circle cx="619" cy="559.8" r="1.3" fill="#a09060"/>
<circle cx="654.5" cy="559.8" r="1.3" fill="#a09060"/>
<circle cx="664.6" cy="559.8" r="1.3" fill="#a09060"/>
<circle cx="674.7" cy="559.8" r="1.3" fill="#a09060"/>
<circle cx="692.9" cy="551.7" r="1.3" fill="#a09060"/>
<circle cx="912.3" cy="540.6" r="1.3" fill="#a09060"/>
<circle cx="1137.8" cy="540" r="1.3" fill="#a09060"/>
<circle cx="1150.3" cy="543.6" r="1.3" fill="#a09060"/>
<text transform="translate(265.60 510.05) scale(1 1.1)" font-size="9.3" fill="#d3aa55" stroke="#d3aa55" stroke-width="0.12">628</text>
<text transform="translate(297.30 611.85) scale(1 1.1)" font-size="9.3" fill="#d3aa55" stroke="#d3aa55" stroke-width="0.12">-629</text>
<text transform="translate(333.30 509.85) scale(1 1.1)" font-size="9.3" fill="#d3aa55" stroke="#d3aa55" stroke-width="0.12">642</text>
<text transform="translate(369.20 612.85) scale(1 1.1)" font-size="9.3" fill="#d3aa55" stroke="#d3aa55" stroke-width="0.12">-626</text>
<text transform="translate(396.80 509.85) scale(1 1.1)" font-size="9.3" fill="#d3aa55" stroke="#d3aa55" stroke-width="0.12">640</text>
<text transform="translate(422.30 612.65) scale(1 1.1)" font-size="9.3" fill="#d3aa55" stroke="#d3aa55" stroke-width="0.12">-626</text>
<text transform="translate(448.10 509.85) scale(1 1.1)" font-size="9.3" fill="#d3aa55" stroke="#d3aa55" stroke-width="0.12">641</text>
<text transform="translate(484.00 611.15) scale(1 1.1)" font-size="9.3" fill="#d3aa55" stroke="#d3aa55" stroke-width="0.12">-638</text>
<text transform="translate(525.50 509.35) scale(1 1.1)" font-size="9.3" fill="#d3aa55" stroke="#d3aa55" stroke-width="0.12">631</text>
<text transform="translate(587.60 612.65) scale(1 1.1)" font-size="9.3" fill="#d3aa55" stroke="#d3aa55" stroke-width="0.12">-628</text>
<text transform="translate(732.30 501.25) scale(1 1.1)" font-size="9.3" fill="#d3aa55" stroke="#d3aa55" stroke-width="0.12">623</text>
<text transform="translate(805.00 604.65) scale(1 1.1)" font-size="9.3" fill="#d3aa55" stroke="#d3aa55" stroke-width="0.12">-639</text>
<text transform="translate(860.80 501.35) scale(1 1.1)" font-size="9.3" fill="#d3aa55" stroke="#d3aa55" stroke-width="0.12">633</text>
<text transform="translate(922.80 604.55) scale(1 1.1)" font-size="9.3" fill="#d3aa55" stroke="#d3aa55" stroke-width="0.12">-644</text>
<text transform="translate(963.20 504.75) scale(1 1.1)" font-size="9.3" fill="#d3aa55" stroke="#d3aa55" stroke-width="0.12">634</text>
<text transform="translate(994.70 604.55) scale(1 1.1)" font-size="9.3" fill="#d3aa55" stroke="#d3aa55" stroke-width="0.12">-632</text>
<text transform="translate(1025.00 502.35) scale(1 1.1)" font-size="9.3" fill="#d3aa55" stroke="#d3aa55" stroke-width="0.12">625</text>
<text transform="translate(1051.30 604.55) scale(1 1.1)" font-size="9.3" fill="#d3aa55" stroke="#d3aa55" stroke-width="0.12">-638</text>
<text transform="translate(1086.70 502.35) scale(1 1.1)" font-size="9.3" fill="#d3aa55" stroke="#d3aa55" stroke-width="0.12">624</text>
<line x1="209.1" y1="560" x2="209.1" y2="597.1" stroke="#c09e44" stroke-width="1.6"/><polygon points="205.6,597.1 212.6,597.1 209.1,603.5" fill="#cfa22c"/>
<line x1="250.9" y1="598.8" x2="250.9" y2="562.4" stroke="#c09e44" stroke-width="1.6"/><polygon points="247.4,562.4 254.4,562.4 250.9,556" fill="#cfa22c"/>
<line x1="265.7" y1="559.8" x2="265.7" y2="515.7" stroke="#c09e44" stroke-width="1.6"/><polygon points="262.2,515.7 269.2,515.7 265.7,509.3" fill="#cfa22c"/>
<line x1="281.5" y1="513.5" x2="281.5" y2="536.1" stroke="#c09e44" stroke-width="1.6"/><polygon points="278.0,536.1 285.0,536.1 281.5,542.5" fill="#cfa22c"/>
<line x1="297.3" y1="539.2" x2="297.3" y2="597.1" stroke="#c09e44" stroke-width="1.6"/><polygon points="293.8,597.1 300.8,597.1 297.3,603.5" fill="#cfa22c"/>
<line x1="318.8" y1="599.2" x2="318.8" y2="560.8" stroke="#c09e44" stroke-width="1.6"/><polygon points="315.3,560.8 322.3,560.8 318.8,554.4" fill="#cfa22c"/>
<line x1="333.1" y1="557.9" x2="333.1" y2="515.7" stroke="#c09e44" stroke-width="1.6"/><polygon points="329.6,515.7 336.6,515.7 333.1,509.3" fill="#cfa22c"/>
<line x1="355.1" y1="513.5" x2="355.1" y2="536.1" stroke="#c09e44" stroke-width="1.6"/><polygon points="351.6,536.1 358.6,536.1 355.1,542.5" fill="#cfa22c"/>
<line x1="369.3" y1="539.2" x2="369.3" y2="598.4" stroke="#c09e44" stroke-width="1.6"/><polygon points="365.8,598.4 372.8,598.4 369.3,604.8" fill="#cfa22c"/>
<line x1="380" y1="600.7" x2="380" y2="562.1" stroke="#c09e44" stroke-width="1.6"/><polygon points="376.5,562.1 383.5,562.1 380,555.7" fill="#cfa22c"/>
<line x1="396.4" y1="559.8" x2="396.4" y2="516.1" stroke="#c09e44" stroke-width="1.6"/><polygon points="392.9,516.1 399.9,516.1 396.4,509.7" fill="#cfa22c"/>
<line x1="410" y1="513.5" x2="410" y2="540.8000000000001" stroke="#c09e44" stroke-width="1.6"/><polygon points="406.5,540.8 413.5,540.8 410,547.2" fill="#cfa22c"/>
<line x1="422.3" y1="543.8" x2="422.3" y2="598.0" stroke="#c09e44" stroke-width="1.6"/><polygon points="418.8,598.0 425.8,598.0 422.3,604.4" fill="#cfa22c"/>
<line x1="435.9" y1="600.7" x2="435.9" y2="562.4" stroke="#c09e44" stroke-width="1.6"/><polygon points="432.4,562.4 439.4,562.4 435.9,556" fill="#cfa22c"/>
<line x1="448.1" y1="559.8" x2="448.1" y2="516.4" stroke="#c09e44" stroke-width="1.6"/><polygon points="444.6,516.4 451.6,516.4 448.1,510" fill="#cfa22c"/>
<line x1="471.6" y1="513.5" x2="471.6" y2="543.6" stroke="#c09e44" stroke-width="1.6"/><polygon points="468.1,543.6 475.1,543.6 471.6,550" fill="#cfa22c"/>
<line x1="483.5" y1="546.3" x2="483.5" y2="596.5" stroke="#c09e44" stroke-width="1.6"/><polygon points="480.0,596.5 487.0,596.5 483.5,602.9" fill="#cfa22c"/>
<line x1="510.7" y1="598.4" x2="510.7" y2="562.1" stroke="#c09e44" stroke-width="1.6"/><polygon points="507.2,562.1 514.2,562.1 510.7,555.7" fill="#cfa22c"/>
<line x1="524.7" y1="559.8" x2="524.7" y2="515.2" stroke="#c09e44" stroke-width="1.6"/><polygon points="521.2,515.2 528.2,515.2 524.7,508.8" fill="#cfa22c"/>
<line x1="571.6" y1="512.9" x2="571.6" y2="536.1" stroke="#c09e44" stroke-width="1.6"/><polygon points="568.1,536.1 575.1,536.1 571.6,542.5" fill="#cfa22c"/>
<line x1="587.6" y1="538.8" x2="587.6" y2="598.0" stroke="#c09e44" stroke-width="1.6"/><polygon points="584.1,598.0 591.1,598.0 587.6,604.4" fill="#cfa22c"/>
<line x1="594.1" y1="600.3" x2="594.1" y2="562.1" stroke="#c09e44" stroke-width="1.6"/><polygon points="590.6,562.1 597.6,562.1 594.1,555.7" fill="#cfa22c"/>
<line x1="628.9" y1="560.4" x2="628.9" y2="597.2" stroke="#c09e44" stroke-width="1.6"/><polygon points="625.4,597.2 632.4,597.2 628.9,603.6" fill="#cfa22c"/>
<line x1="642" y1="600.8" x2="642" y2="562.8" stroke="#c09e44" stroke-width="1.6"/><polygon points="638.5,562.8 645.5,562.8 642,556.4" fill="#cfa22c"/>
<line x1="684.8" y1="560.4" x2="684.8" y2="594.2" stroke="#c09e44" stroke-width="1.6"/><polygon points="681.3,594.2 688.3,594.2 684.8,600.6" fill="#cfa22c"/>
<line x1="731.8" y1="554.7" x2="731.8" y2="507.59999999999997" stroke="#c09e44" stroke-width="1.6"/><polygon points="728.3,507.6 735.3,507.6 731.8,501.2" fill="#cfa22c"/>
<line x1="786.5" y1="504.2" x2="786.5" y2="538.6" stroke="#c09e44" stroke-width="1.6"/><polygon points="783.0,538.6 790.0,538.6 786.5,545" fill="#cfa22c"/>
<line x1="805" y1="541" x2="805" y2="591.2" stroke="#c09e44" stroke-width="1.6"/><polygon points="801.5,591.2 808.5,591.2 805,597.6" fill="#cfa22c"/>
<line x1="839.4" y1="593.1" x2="839.4" y2="554.6999999999999" stroke="#c09e44" stroke-width="1.6"/><polygon points="835.9,554.7 842.9,554.7 839.4,548.3" fill="#cfa22c"/>
<line x1="860.8" y1="552.3" x2="860.8" y2="507.2" stroke="#c09e44" stroke-width="1.6"/><polygon points="857.3,507.2 864.3,507.2 860.8,500.8" fill="#cfa22c"/>
<line x1="899.8" y1="505.3" x2="899.8" y2="538.2" stroke="#c09e44" stroke-width="1.6"/><polygon points="896.3,538.2 903.3,538.2 899.8,544.6" fill="#cfa22c"/>
<line x1="922" y1="541" x2="922" y2="590.4" stroke="#c09e44" stroke-width="1.6"/><polygon points="918.5,590.4 925.5,590.4 922,596.8" fill="#cfa22c"/>
<line x1="950.7" y1="592.1" x2="950.7" y2="554.6999999999999" stroke="#c09e44" stroke-width="1.6"/><polygon points="947.2,554.7 954.2,554.7 950.7,548.3" fill="#cfa22c"/>
<line x1="962.8" y1="551.7" x2="962.8" y2="510.2" stroke="#c09e44" stroke-width="1.6"/><polygon points="959.3,510.2 966.3,510.2 962.8,503.8" fill="#cfa22c"/>
<line x1="981.4" y1="507.9" x2="981.4" y2="537.8000000000001" stroke="#c09e44" stroke-width="1.6"/><polygon points="977.9,537.8 984.9,537.8 981.4,544.2" fill="#cfa22c"/>
<line x1="994.1" y1="540.2" x2="994.1" y2="590.8000000000001" stroke="#c09e44" stroke-width="1.6"/><polygon points="990.6,590.8 997.6,590.8 994.1,597.2" fill="#cfa22c"/>
<line x1="1009.9" y1="593.1" x2="1009.9" y2="557.5" stroke="#c09e44" stroke-width="1.6"/><polygon points="1006.4,557.5 1013.4,557.5 1009.9,551.1" fill="#cfa22c"/>
<line x1="1025" y1="555.2" x2="1025" y2="508.2" stroke="#c09e44" stroke-width="1.6"/><polygon points="1021.5,508.2 1028.5,508.2 1025,501.8" fill="#cfa22c"/>
<line x1="1038.6" y1="505.3" x2="1038.6" y2="538.2" stroke="#c09e44" stroke-width="1.6"/><polygon points="1035.1,538.2 1042.1,538.2 1038.6,544.6" fill="#cfa22c"/>
<line x1="1051.3" y1="540.6" x2="1051.3" y2="590.8000000000001" stroke="#c09e44" stroke-width="1.6"/><polygon points="1047.8,590.8 1054.8,590.8 1051.3,597.2" fill="#cfa22c"/>
<line x1="1072.1" y1="593.1" x2="1072.1" y2="555.1" stroke="#c09e44" stroke-width="1.6"/><polygon points="1068.6,555.1 1075.6,555.1 1072.1,548.7" fill="#cfa22c"/>
<line x1="1086.7" y1="552.3" x2="1086.7" y2="508.2" stroke="#c09e44" stroke-width="1.6"/><polygon points="1083.2,508.2 1090.2,508.2 1086.7,501.8" fill="#cfa22c"/>
<line x1="1120" y1="505.9" x2="1120" y2="537.8000000000001" stroke="#c09e44" stroke-width="1.6"/><polygon points="1116.5,537.8 1123.5,537.8 1120,544.2" fill="#cfa22c"/>
<line x1="282.5" y1="617.5" x2="282.5" y2="607.5" stroke="#9a9a9a" stroke-width="1"/>
<line x1="282.5" y1="466.5" x2="282.5" y2="476.5" stroke="#9a9a9a" stroke-width="1"/>
<line x1="382" y1="617.5" x2="382" y2="607.5" stroke="#9a9a9a" stroke-width="1"/>
<line x1="382" y1="466.5" x2="382" y2="476.5" stroke="#9a9a9a" stroke-width="1"/>
<line x1="482.5" y1="617.5" x2="482.5" y2="607.5" stroke="#9a9a9a" stroke-width="1"/>
<line x1="482.5" y1="466.5" x2="482.5" y2="476.5" stroke="#9a9a9a" stroke-width="1"/>
<line x1="582.5" y1="617.5" x2="582.5" y2="607.5" stroke="#9a9a9a" stroke-width="1"/>
<line x1="582.5" y1="466.5" x2="582.5" y2="476.5" stroke="#9a9a9a" stroke-width="1"/>
<line x1="682.5" y1="617.5" x2="682.5" y2="607.5" stroke="#9a9a9a" stroke-width="1"/>
<line x1="682.5" y1="466.5" x2="682.5" y2="476.5" stroke="#9a9a9a" stroke-width="1"/>
<line x1="782" y1="617.5" x2="782" y2="607.5" stroke="#9a9a9a" stroke-width="1"/>
<line x1="782" y1="466.5" x2="782" y2="476.5" stroke="#9a9a9a" stroke-width="1"/>
<line x1="881.5" y1="617.5" x2="881.5" y2="607.5" stroke="#9a9a9a" stroke-width="1"/>
<line x1="881.5" y1="466.5" x2="881.5" y2="476.5" stroke="#9a9a9a" stroke-width="1"/>
<line x1="982" y1="617.5" x2="982" y2="607.5" stroke="#9a9a9a" stroke-width="1"/>
<line x1="982" y1="466.5" x2="982" y2="476.5" stroke="#9a9a9a" stroke-width="1"/>
<line x1="1081.5" y1="617.5" x2="1081.5" y2="607.5" stroke="#9a9a9a" stroke-width="1"/>
<line x1="1081.5" y1="466.5" x2="1081.5" y2="476.5" stroke="#9a9a9a" stroke-width="1"/>
<line x1="182.5" y1="583.5" x2="192.5" y2="583.5" stroke="#9a9a9a" stroke-width="1"/>
<line x1="1181.5" y1="583.5" x2="1171.5" y2="583.5" stroke="#9a9a9a" stroke-width="1"/>
<line x1="182.5" y1="548.5" x2="192.5" y2="548.5" stroke="#9a9a9a" stroke-width="1"/>
<line x1="1181.5" y1="548.5" x2="1171.5" y2="548.5" stroke="#9a9a9a" stroke-width="1"/>
<line x1="182.5" y1="514.5" x2="192.5" y2="514.5" stroke="#9a9a9a" stroke-width="1"/>
<line x1="1181.5" y1="514.5" x2="1171.5" y2="514.5" stroke="#9a9a9a" stroke-width="1"/>
<line x1="182.5" y1="480.5" x2="192.5" y2="480.5" stroke="#9a9a9a" stroke-width="1"/>
<line x1="1181.5" y1="480.5" x2="1171.5" y2="480.5" stroke="#9a9a9a" stroke-width="1"/>
<rect x="182.5" y="466.5" width="999.0" height="151.0" fill="none" stroke="#8c8c8c" stroke-width="1"/>
<text transform="translate(177.70 621.20) scale(1 1.1)" text-anchor="end" font-size="7.5" fill="#404040" stroke="#404040" stroke-width="0.12">1000</text>
<text transform="translate(177.70 587.20) scale(1 1.1)" text-anchor="end" font-size="7.5" fill="#404040" stroke="#404040" stroke-width="0.12">1500</text>
<text transform="translate(177.70 552.20) scale(1 1.1)" text-anchor="end" font-size="7.5" fill="#404040" stroke="#404040" stroke-width="0.12">2000</text>
<text transform="translate(177.70 518.20) scale(1 1.1)" text-anchor="end" font-size="7.5" fill="#404040" stroke="#404040" stroke-width="0.12">2500</text>
<text transform="translate(177.70 484.20) scale(1 1.1)" text-anchor="end" font-size="7.5" fill="#404040" stroke="#404040" stroke-width="0.12">3000</text>
<text transform="translate(177.70 470.20) scale(1 1.1)" text-anchor="end" font-size="7.5" fill="#404040" stroke="#404040" stroke-width="0.12"></text>
<text transform="translate(182.50 629.50) scale(1 1.1)" text-anchor="middle" font-size="7.5" fill="#404040" stroke="#404040" stroke-width="0.12">13:35</text>
<text transform="translate(282.50 629.50) scale(1 1.1)" text-anchor="middle" font-size="7.5" fill="#404040" stroke="#404040" stroke-width="0.12">13:40</text>
<text transform="translate(382.00 629.50) scale(1 1.1)" text-anchor="middle" font-size="7.5" fill="#404040" stroke="#404040" stroke-width="0.12">13:45</text>
<text transform="translate(482.50 629.50) scale(1 1.1)" text-anchor="middle" font-size="7.5" fill="#404040" stroke="#404040" stroke-width="0.12">13:50</text>
<text transform="translate(582.50 629.50) scale(1 1.1)" text-anchor="middle" font-size="7.5" fill="#404040" stroke="#404040" stroke-width="0.12">13:55</text>
<text transform="translate(682.50 629.50) scale(1 1.1)" text-anchor="middle" font-size="7.5" fill="#404040" stroke="#404040" stroke-width="0.12">14:00</text>
<text transform="translate(782.00 629.50) scale(1 1.1)" text-anchor="middle" font-size="7.5" fill="#404040" stroke="#404040" stroke-width="0.12">14:05</text>
<text transform="translate(881.50 629.50) scale(1 1.1)" text-anchor="middle" font-size="7.5" fill="#404040" stroke="#404040" stroke-width="0.12">14:10</text>
<text transform="translate(982.00 629.50) scale(1 1.1)" text-anchor="middle" font-size="7.5" fill="#404040" stroke="#404040" stroke-width="0.12">14:15</text>
<text transform="translate(1081.50 629.50) scale(1 1.1)" text-anchor="middle" font-size="7.5" fill="#404040" stroke="#404040" stroke-width="0.12">14:20</text>
<text transform="translate(1181.50 629.50) scale(1 1.1)" text-anchor="middle" font-size="7.5" fill="#404040" stroke="#404040" stroke-width="0.12">14:25</text>
<text transform="translate(156.20 542.70) rotate(-90) scale(1 1.1)" text-anchor="middle" font-size="8.3" fill="#404040" stroke="#404040" stroke-width="0.12">Roll AD</text>
<rect x="1201.5" y="524.5" width="66" height="34" fill="#fff" stroke="#8c8c8c" stroke-width="1"/>
<line x1="1204" y1="530.9" x2="1233.7" y2="530.9" stroke="#c9a040" stroke-width="2"/>
<text transform="translate(1236.20 534.10) scale(1 1.1)" font-size="6.8" fill="#404040" stroke="#404040" stroke-width="0.12">Roll</text>
<line x1="1204" y1="541.3" x2="1233.7" y2="541.3" stroke="#f0e050" stroke-width="2"/>
<text transform="translate(1236.20 544.50) scale(1 1.1)" font-size="6.8" fill="#404040" stroke="#404040" stroke-width="0.12">C_ROLL</text>
<line x1="1204" y1="552.2" x2="1233.7" y2="552.2" stroke="#555" stroke-width="1.2" stroke-dasharray="1.5,1.5"/>
<text transform="translate(1236.20 555.40) scale(1 1.1)" font-size="6.8" fill="#404040" stroke="#404040" stroke-width="0.12">apogee</text>
</svg></body></html>
